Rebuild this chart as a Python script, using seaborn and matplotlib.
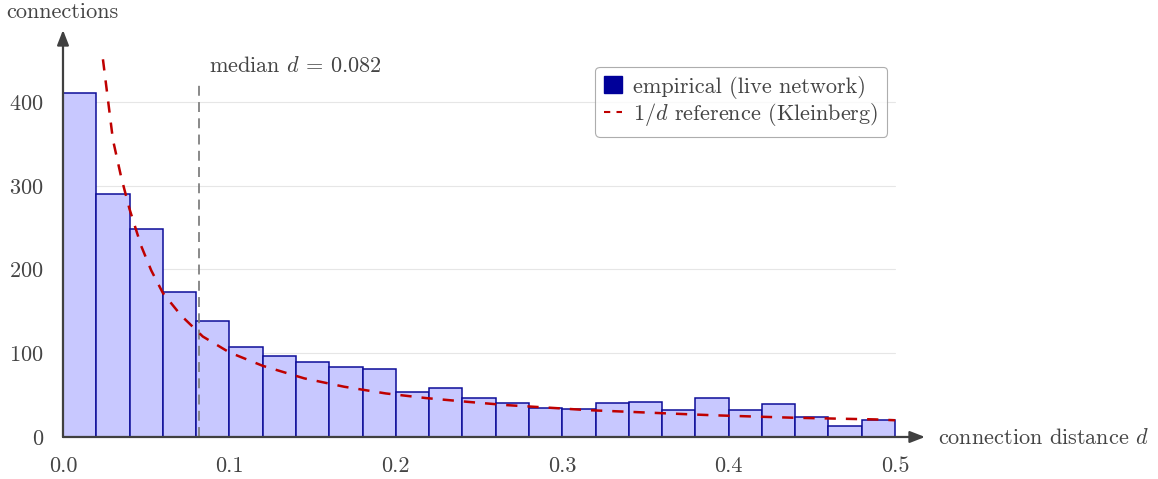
import matplotlib
matplotlib.use("Agg")
import matplotlib.pyplot as plt
from matplotlib.patches import Patch
from matplotlib.lines import Line2D
import pandas as pd
import seaborn as sns

# histogram counts, bins of width 0.02 from 0 to 0.5
bin_edges = [round(0.02 * i, 2) for i in range(26)]
counts = [411, 290, 248, 173, 138, 107, 97, 90, 84, 81, 54, 59, 46,
          40, 35, 33, 40, 42, 32, 47, 32, 39, 24, 13, 20]

# 1/d reference curve (Kleinberg)
ref_d = [0.024, 0.030, 0.035, 0.040, 0.047, 0.053, 0.060, 0.071, 0.084, 0.100, 0.120,
         0.145, 0.169, 0.194, 0.218, 0.243, 0.267, 0.292, 0.316, 0.341, 0.365,
         0.390, 0.414, 0.439, 0.463, 0.488, 0.500]
ref_y = [451, 355, 310, 272, 228, 199, 172, 145, 120, 101, 85,
         70, 60, 52, 46.5, 42, 38, 35, 32, 30, 28,
         26, 24.5, 23, 22, 21, 20]

median_d = 0.082
x_ticks = [0.0, 0.1, 0.2, 0.3, 0.4, 0.5]
y_ticks = [0, 100, 200, 300, 400]

sns.set_style("white")
plt.rcParams['font.family'] = ['cmr10', 'DejaVu Serif']
plt.rcParams['mathtext.fontset'] = 'cm'
plt.rcParams['axes.formatter.use_mathtext'] = True

txt = "#444444"
fs = 16
fig = plt.figure(figsize=(11.58, 4.79), dpi=100)
ax = fig.add_axes([0.0544, 0.0877, 0.7444, 0.8497])

# grid lines only up to 0.5
for yv in y_ticks[1:]:
    ax.plot([0, 0.5], [yv, yv], color="#e6e6e6", lw=0.8, zorder=0)

hist_df = pd.DataFrame({"d": [e + 0.01 for e in bin_edges[:-1]], "n": counts})
sns.histplot(data=hist_df, x="d", weights="n", bins=bin_edges, ax=ax,
             color="#c8c8ff", edgecolor="#0d0d99", linewidth=1.1, alpha=1, zorder=2)

sns.lineplot(x=ref_d, y=ref_y, ax=ax, color="#bf0000", lw=1.8,
             linestyle=(0, (4.5, 4)), zorder=4)

ax.plot([median_d, median_d], [0, 426], color="#808080", lw=1.3,
        linestyle=(0, (5.5, 3.5)), zorder=3)
ax.text(median_d + 0.0055, 443, r"median $d$ = 0.082", color=txt, fontsize=fs,
        va="center", ha="left")

ax.set_xlim(0, 0.518)
ax.set_ylim(0, 486)
ax.set_xticks(x_ticks)
ax.set_xticklabels(["0.0", "0.1", "0.2", "0.3", "0.4", "0.5"])
ax.set_yticks(y_ticks)
ax.tick_params(axis="both", direction="out", length=5.8, width=0.9, color="#666666",
               labelcolor=txt, labelsize=fs, pad=8)
ax.set_xlabel("")
ax.set_ylabel("")
for s in ax.spines.values():
    s.set_visible(False)

# axis arrows
arrow = dict(arrowstyle="-|>,head_length=0.9,head_width=0.35", color="#404040", lw=1.6,
             shrinkA=0, shrinkB=0)
ax.annotate("", xy=(1, 0), xytext=(0, 0), xycoords="axes fraction", arrowprops=arrow, zorder=5)
ax.annotate("", xy=(0, 1), xytext=(0, 0), xycoords="axes fraction", arrowprops=arrow, zorder=5)

fig.text(6 / 1158, 1 - 12 / 479, "connections", color=txt, fontsize=fs, va="center", ha="left")
fig.text(938 / 1158, 1 - 438 / 479, r"connection distance $d$", color=txt, fontsize=fs,
         va="center", ha="left")

handles = [Patch(facecolor="#000099", edgecolor="#000099"),
           Line2D([], [], color="#bf0000", lw=1.5, linestyle=(0, (3, 3)))]
leg = ax.legend(handles, ["empirical (live network)", r"$1/d$ reference (Kleinberg)"],
                loc="upper right", bbox_to_anchor=(0.956, 0.91), fontsize=fs,
                frameon=True, fancybox=True, edgecolor="#999999", handlelength=0.8,
                handleheight=0.8, handletextpad=0.5, borderpad=0.4, labelspacing=0.1,
                borderaxespad=0)
leg.get_frame().set_linewidth(0.8)
for t in leg.get_texts():
    t.set_color(txt)

fig.savefig("out.png", dpi=100)
